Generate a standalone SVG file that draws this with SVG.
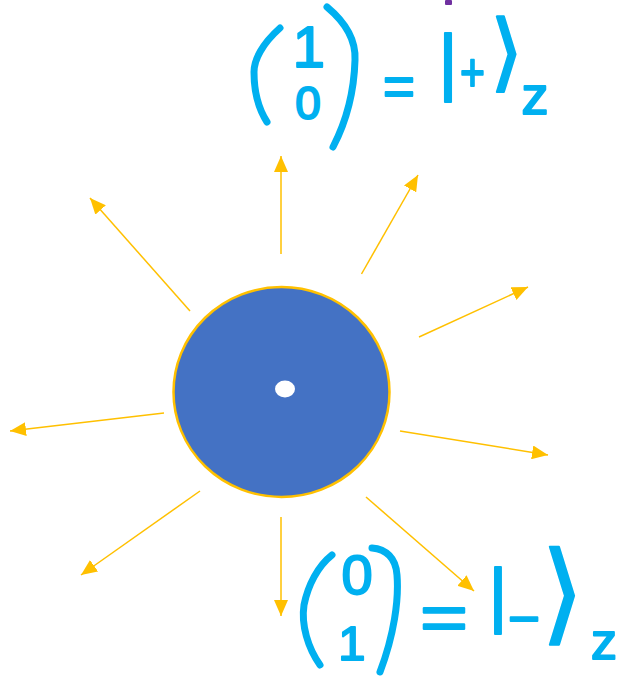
<svg xmlns="http://www.w3.org/2000/svg" width="634" height="676" viewBox="0 0 634 676">
<style>
.ray{stroke:#FFC000;stroke-width:1.5;fill:none;marker-end:url(#ah)}
.ink{fill:#00B0F0;stroke:#00B0F0;stroke-width:2;stroke-linejoin:round;font-family:"Liberation Sans","DejaVu Sans",sans-serif}
.ket{stroke-width:2;font-family:"DejaVu Sans",sans-serif}
.pen{fill:none;stroke:#00B0F0;stroke-width:7;stroke-linecap:round;stroke-linejoin:round}
</style>
<defs>
<marker id="ah" viewBox="0 0 16 14" refX="16" refY="7" markerWidth="16" markerHeight="14" markerUnits="userSpaceOnUse" orient="auto">
<path d="M0,0 L16,7 L0,14 Z" fill="#FFC000"/>
</marker>
</defs>
<rect width="634" height="676" fill="#FFFFFF"/>
<rect x="445" y="0" width="7" height="5" rx="1" fill="#7030A0"/>
<g id="connectors">
<line class="ray" x1="281" y1="254" x2="281" y2="156"/>
<line class="ray" x1="190" y1="311" x2="90" y2="198"/>
<line class="ray" x1="361.5" y1="274" x2="418" y2="175"/>
<line class="ray" x1="419" y1="337" x2="528" y2="287"/>
<line class="ray" x1="164" y1="413" x2="10" y2="431"/>
<line class="ray" x1="400" y1="431" x2="548" y2="455"/>
<line class="ray" x1="200" y1="491" x2="81" y2="575"/>
<line class="ray" x1="281" y1="517" x2="281" y2="616"/>
<line class="ray" x1="366" y1="497" x2="474" y2="591"/>
</g>
<g id="particle">
<ellipse cx="281.5" cy="392" rx="108" ry="105" fill="#4472C4" stroke="#FFC000" stroke-width="2.5"/>
<ellipse cx="285" cy="389" rx="10" ry="8.5" fill="#FFFFFF"/>
</g>
<g id="state-plus">
<path class="pen" d="M280,28 C262,44 254,60 254,72 C254,92 258,108 267,122"/>
<path class="pen" d="M327,7 C345,22 356,40 355,60 C354,95 346,122 333,147"/>
<text class="ink" x="309" y="67" font-size="58" text-anchor="middle">1</text>
<text class="ink" x="308" y="119" font-size="46" text-anchor="middle">0</text>
<text class="ink" x="383" y="105" font-size="56" textLength="32" lengthAdjust="spacingAndGlyphs">=</text>
<text class="ink"><tspan x="448" y="87" font-size="75" text-anchor="middle">|</tspan><tspan x="460" y="91" font-size="54" textLength="25" lengthAdjust="spacingAndGlyphs">+</tspan><tspan class="ket" x="490" y="81" font-size="85">⟩</tspan><tspan x="535" y="114" font-size="54" text-anchor="middle">z</tspan></text>
</g>
<g id="state-minus">
<path class="pen" d="M332,555 C318,566 308,585 304,605 C301,625 308,648 320,665"/>
<path class="pen" d="M372,548 C386,549 396,558 397,575 C399,600 394,635 380,672"/>
<text class="ink" x="357" y="594" font-size="56" text-anchor="middle">0</text>
<text class="ink" x="352" y="660" font-size="49" text-anchor="middle">1</text>
<text class="ink" x="420" y="640" font-size="64" textLength="48" lengthAdjust="spacingAndGlyphs">=</text>
<text class="ink"><tspan x="498" y="619" font-size="73" text-anchor="middle">|</tspan><tspan x="508" y="637" font-size="54" textLength="32" lengthAdjust="spacingAndGlyphs">−</tspan><tspan class="ket" x="541" y="630" font-size="110">⟩</tspan><tspan x="604" y="659" font-size="52" text-anchor="middle">z</tspan></text>
</g>
</svg>
